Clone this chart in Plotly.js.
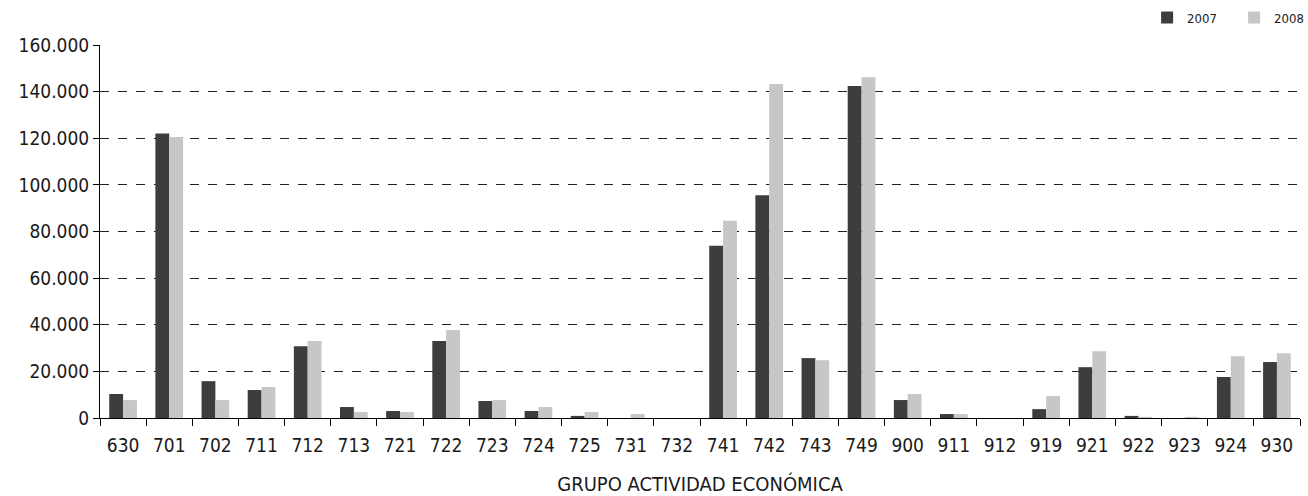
<!DOCTYPE html>
<html>
<head>
<meta charset="utf-8">
<script src="https://cdn.plot.ly/plotly-3.0.1.min.js"></script>
<style>html,body{margin:0;padding:0;background:#fff;}#chart{width:1308px;height:496px;}</style>
</head>
<body>
<div id="chart"></div>
<script>
const categories = ["630","701","702","711","712","713","721","722","723","724","725","731","732","741","742","743","749","900","911","912","919","921","922","923","924","930"];
const values2007 = [10300,122000,15800,12000,30800,4700,3000,33000,7300,3000,900,0,0,73900,95600,25700,142400,7700,1700,0,3800,21800,900,0,17600,24000];
const values2008 = [7700,120500,7700,13300,33000,2600,2600,37700,7700,4700,2600,1700,0,84600,143300,24800,146200,10300,1700,0,9400,28600,500,500,26500,27800];
const seriesNames = ["2007","2008"];
const yTicks = [0,20000,40000,60000,80000,100000,120000,140000,160000];

const font = "'DejaVu Sans Condensed', 'Liberation Sans Narrow', sans-serif";

const data = [
  {type:"bar", name:seriesNames[0], x:categories, y:values2007, marker:{color:"#3d3d3f"}},
  {type:"bar", name:seriesNames[1], x:categories, y:values2008, marker:{color:"#c6c7c9"}}
];

const layout = {
  width:1308, height:496,
  margin:{l:100, r:8, t:45, b:78, autoexpand:false},
  paper_bgcolor:"#fff", plot_bgcolor:"#fff",
  separators:",.",
  font:{family:font, size:19, color:"#1a1a1a"},
  barmode:"group", bargap:0.4, bargroupgap:0,
  showlegend:true,
  legend:{orientation:"h", x:0.877, xanchor:"left", xref:"container", y:0.995, yanchor:"top", yref:"container",
          font:{family:font, size:13, color:"#1a1a1a"}, entrywidth:42, entrywidthmode:"pixels", traceorder:"normal"},
  xaxis:{type:"category", ticks:"outside", tickson:"boundaries", ticklen:7, tickcolor:"#000",
         ticklabelstandoff:10,
         showline:true, linecolor:"#000", linewidth:1, showgrid:false,
         tickfont:{family:font, size:19, color:"#1a1a1a"},
         title:{text:"GRUPO ACTIVIDAD ECONÓMICA", font:{family:font, size:20, color:"#1a1a1a"}, standoff:22}},
  yaxis:{range:[0,160000], tickvals:yTicks, tickformat:",d", ticks:"outside", ticklen:6, tickcolor:"#000",
         showline:true, linecolor:"#000", linewidth:1, zeroline:false,
         showgrid:true, gridcolor:"#222", griddash:"dash", gridwidth:1,
         tickfont:{family:font, size:19, color:"#1a1a1a"}}
};

Plotly.newPlot("chart", data, layout, {displayModeBar:false, staticPlot:true});
</script>
</body>
</html>
